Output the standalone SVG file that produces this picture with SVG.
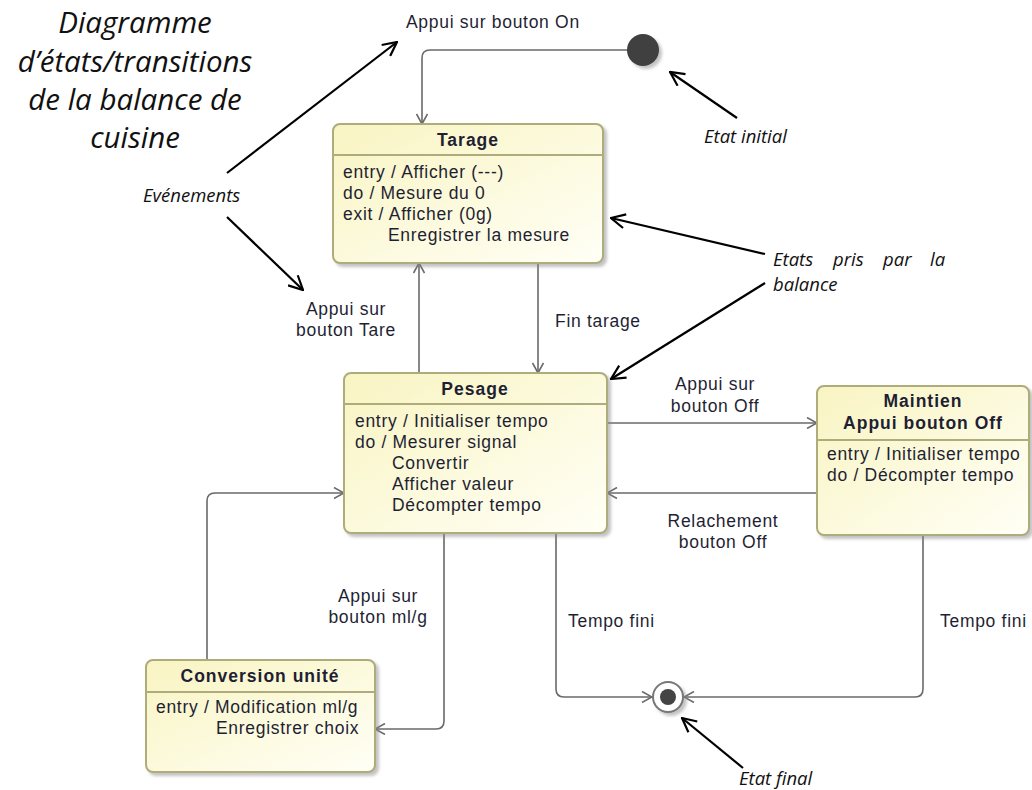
<svg xmlns="http://www.w3.org/2000/svg" width="1032" height="790" viewBox="0 0 1032 790">
<style>
.box{fill:url(#g);stroke:#aeac7a;stroke-width:2;filter:url(#sh)}
.sep{stroke:#aeac7a;stroke-width:2}
.t{font-family:"Liberation Sans",Arial,sans-serif;font-size:17.5px;letter-spacing:0.7px;fill:#1f1f33}
.b{font-weight:bold;letter-spacing:1px;text-anchor:middle}
.c{text-anchor:middle}
.conn{fill:none;stroke:#6a6a6a;stroke-width:1.6;marker-end:url(#ah)}
.ann{fill:none;stroke:#000;stroke-width:2.2;marker-end:url(#ak)}
.it{font-family:"Open Sans","Liberation Sans",sans-serif;font-style:italic;fill:#111}
.a{font-size:18.5px}
</style>
<defs>
<linearGradient id="g" x1="0" y1="0" x2="1" y2="1">
<stop offset="0" stop-color="#f9f4c2"/>
<stop offset="1" stop-color="#fffff6"/>
</linearGradient>
<filter id="sh" x="-10%" y="-10%" width="130%" height="130%">
<feDropShadow dx="3" dy="3" stdDeviation="1.5" flood-color="#888" flood-opacity="0.5"/>
</filter>
<marker id="ah" viewBox="0 0 12 12" refX="11" refY="6" markerWidth="12" markerHeight="12" orient="auto" markerUnits="userSpaceOnUse">
<path d="M1,0.5 L11,6 L1,11.5" fill="none" stroke="#6a6a6a" stroke-width="1.6"/>
</marker>
<marker id="ak" viewBox="0 0 16 16" refX="15" refY="8" markerWidth="16" markerHeight="16" orient="auto" markerUnits="userSpaceOnUse">
<path d="M1,1 L15,8 L1,15" fill="none" stroke="#000" stroke-width="2.2"/>
</marker>
</defs>
<rect width="1032" height="790" fill="#fff"/>

<g id="title">
<text class="it" font-size="29.5" text-anchor="middle"><tspan x="135" y="33">Diagramme</tspan><tspan x="135" y="72">d’états/transitions</tspan><tspan x="135" y="110">de la balance de</tspan><tspan x="135" y="148">cuisine</tspan></text>
</g>

<g id="connectors">
<path class="conn" d="M627,50 H430 Q422,50 422,58 V124"/>
<path class="conn" d="M538,263 V373"/>
<path class="conn" d="M419,373 V263"/>
<path class="conn" d="M607,423 H817"/>
<path class="conn" d="M817,493 H607"/>
<path class="conn" d="M207,660 V501 Q207,493 215,493 H344"/>
<path class="conn" d="M444,533 V721 Q444,729 436,729 H375"/>
<path class="conn" d="M556,533 V689 Q556,697 564,697 H652"/>
<path class="conn" d="M923,535 V689 Q923,697 915,697 H684"/>
<text class="t" x="406" y="28">Appui sur bouton On</text>
<text class="t c"><tspan x="346" y="315">Appui sur</tspan><tspan x="346" y="336">bouton Tare</tspan></text>
<text class="t" x="555" y="327">Fin tarage</text>
<text class="t c"><tspan x="715" y="390">Appui sur</tspan><tspan x="715" y="412">bouton Off</tspan></text>
<text class="t c"><tspan x="723" y="527">Relachement</tspan><tspan x="723" y="548">bouton Off</tspan></text>
<text class="t c"><tspan x="378" y="602">Appui sur</tspan><tspan x="378" y="623">bouton ml/g</tspan></text>
<text class="t" x="568" y="627">Tempo fini</text>
<text class="t" x="940" y="627">Tempo fini</text>
</g>

<g id="initial">
<circle cx="643" cy="50" r="16" fill="#3f3f3f" filter="url(#sh)"/>
</g>

<g id="final">
<circle cx="668" cy="697" r="15" fill="#fff" stroke="#777" stroke-width="2" filter="url(#sh)"/>
<circle cx="668" cy="697" r="8" fill="#444"/>
</g>

<g id="tarage">
<rect class="box" x="333" y="124" width="270" height="139" rx="7"/>
<line class="sep" x1="333" y1="155" x2="603" y2="155"/>
<text class="t b" x="468" y="146">Tarage</text>
<text class="t"><tspan x="343" y="178">entry / Afficher (---)</tspan><tspan x="343" y="199">do / Mesure du 0</tspan><tspan x="343" y="220">exit / Afficher (0g)</tspan><tspan x="388" y="241">Enregistrer la mesure</tspan></text>
</g>

<g id="pesage">
<rect class="box" x="344" y="373" width="263" height="160" rx="7"/>
<line class="sep" x1="344" y1="404" x2="607" y2="404"/>
<text class="t b" x="475" y="395">Pesage</text>
<text class="t"><tspan x="355" y="427">entry / Initialiser tempo</tspan><tspan x="355" y="448">do / Mesurer signal</tspan><tspan x="392" y="469">Convertir</tspan><tspan x="392" y="490">Afficher valeur</tspan><tspan x="392" y="511">Décompter tempo</tspan></text>
</g>

<g id="maintien">
<rect class="box" x="817" y="386" width="212" height="149" rx="7"/>
<line class="sep" x1="817" y1="440" x2="1029" y2="440"/>
<text class="t b"><tspan x="923" y="407">Maintien</tspan><tspan x="923" y="429">Appui bouton Off</tspan></text>
<text class="t"><tspan x="827" y="460">entry / Initialiser tempo</tspan><tspan x="827" y="481">do / Décompter tempo</tspan></text>
</g>

<g id="conversion">
<rect class="box" x="146" y="660" width="229" height="112" rx="7"/>
<line class="sep" x1="146" y1="692" x2="375" y2="692"/>
<text class="t b" x="260" y="682">Conversion unité</text>
<text class="t"><tspan x="156" y="713">entry / Modification ml/g</tspan><tspan x="216" y="734">Enregistrer choix</tspan></text>
</g>

<g id="annotations">
<path class="ann" d="M227,173 L397,42"/>
<path class="ann" d="M227,217 L303,290"/>
<path class="ann" d="M737,118 L670,72"/>
<path class="ann" d="M765,254 L611,218"/>
<path class="ann" d="M765,283 L611,379"/>
<path class="ann" d="M743,768 L682,718"/>
<text class="it a" x="143" y="202">Evénements</text>
<text class="it a" x="704" y="143">Etat initial</text>
<text class="it a"><tspan x="773" y="266">Etats</tspan><tspan x="833" y="266">pris</tspan><tspan x="883" y="266">par</tspan><tspan x="930" y="266">la</tspan><tspan x="773" y="291">balance</tspan></text>
<text class="it a" x="739" y="785">Etat final</text>
</g>
</svg>
